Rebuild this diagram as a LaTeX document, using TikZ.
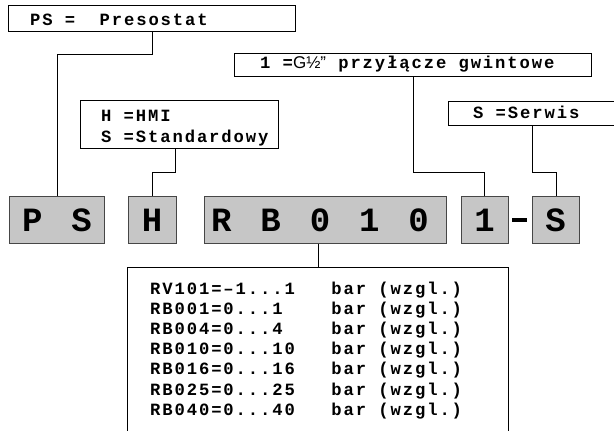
\documentclass[tikz,border=0pt]{standalone}
\usepackage{fontspec}
\setmonofont{Liberation Mono}
\newfontfamily\smallmono[LetterSpace=11]{Liberation Mono}
\newfontfamily\codemono[LetterSpace=25]{Liberation Mono}
\newfontfamily\gsans{Liberation Sans}
\definecolor{codegray}{RGB}{198,198,198}
\definecolor{codeedge}{RGB}{70,70,70}
\tikzset{
  labbox/.style={draw=black,line width=1.3pt,inner sep=0pt,anchor=north west},
  codebox/.style={draw=codeedge,fill=codegray,line width=0.9pt,inner sep=0pt,anchor=north west,minimum height=47pt},
  labtext/.style={inner sep=0pt,anchor=base west,font=\smallmono\bfseries\fontsize{17.2}{20.2}\selectfont,align=left},
  codetext/.style={inner sep=0pt,anchor=base,font=\codemono\bfseries\fontsize{34}{34}\selectfont},
  conn/.style={draw=black,line width=1pt}
}
\begin{document}
\begin{tikzpicture}[x=1pt,y=-1pt]
\useasboundingbox (0,0) rectangle (614,431);
% label boxes
\node[labbox,minimum width=287pt,minimum height=26pt] (psbox) at (8,5) {};
\node[labtext] (pstext) at (30,26) {PS =\ \ Presostat};
\node[labbox,minimum width=357pt,minimum height=23pt] (gbox) at (234,53) {};
\node[labtext] (gtext) at (260,68.5) {1 ={\gsans\mdseries\fontsize{17}{17}\selectfont G½”} przyłącze gwintowe};
\node[labbox,minimum width=198pt,minimum height=48pt] (hbox) at (80,100) {};
\node[labtext] (htext) at (101,142) {H =HMI\\S =Standardowy};
\node[labbox,minimum width=170pt,minimum height=24pt] (sbox) at (448,101) {};
\node[labtext] (stext) at (473,118) {S =Serwis};
\node[labbox,minimum width=381pt,minimum height=180pt] (rbox) at (127,267) {};
\node[labtext] (rtext) at (150,415.2) {RV101=–1...1~~~bar (wzgl.)\\
RB001=0...1~~~~bar (wzgl.)\\
RB004=0...4~~~~bar (wzgl.)\\
RB010=0...10~~~bar (wzgl.)\\
RB016=0...16~~~bar (wzgl.)\\
RB025=0...25~~~bar (wzgl.)\\
RB040=0...40~~~bar (wzgl.)};
% code boxes
\node[codebox,minimum width=95pt] (cps) at (9,196) {};
\node[codebox,minimum width=48pt] (ch) at (128,196) {};
\node[codebox,minimum width=242pt] (crb) at (204,196) {};
\node[codebox,minimum width=47pt] (c1) at (461,196) {};
\node[codebox,minimum width=47pt] (cs) at (532,196) {};
\node[codetext] (tps) at (57,231.5) {P S};
\node[codetext] (th) at (152,231.5) {H};
\node[codetext] (trb) at (320,231.5) {R B 0 1 0};
\node[codetext] (t1) at (484.5,231.5) {1};
\node[codetext] (ts) at (555.5,231.5) {S};
\node[fill=black,inner sep=0pt,minimum width=15pt,minimum height=3.4pt] (dash) at (519.5,220) {};
% connectors
\draw[conn] (psbox.south -| 152,0) |- (57,54) -- (cps.north -| 57,0);
\draw[conn] (hbox.south -| 175,0) |- (152,172) -- (ch.north -| 152,0);
\draw[conn] (gbox.south -| 413,0) |- (484,172) -- (c1.north -| 484,0);
\draw[conn] (sbox.south -| 532,0) |- (556,172) -- (cs.north -| 556,0);
\draw[conn] (crb.south -| 318,0) -- (rbox.north -| 318,0);
\end{tikzpicture}
\end{document}
